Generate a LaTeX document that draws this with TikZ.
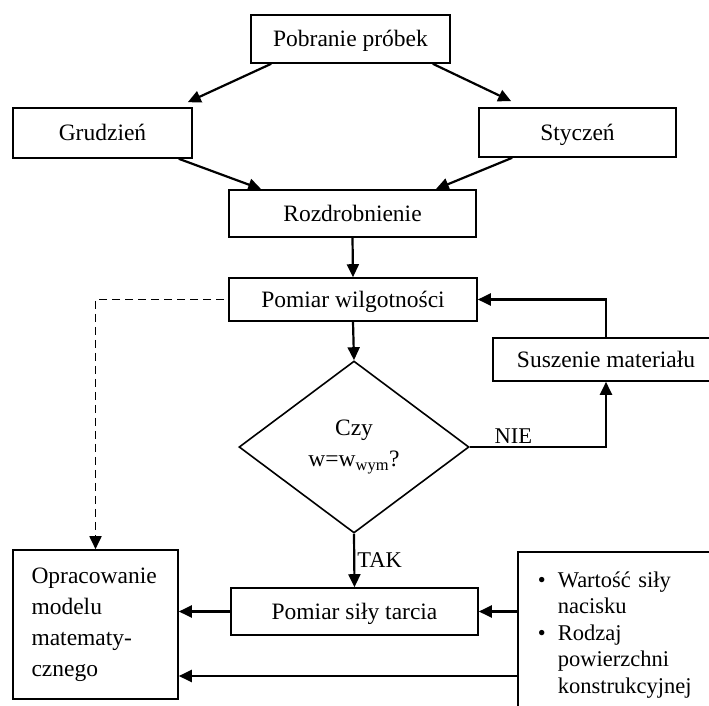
\documentclass[tikz,border=0pt]{standalone}
\usepackage{fontspec}
\setmainfont{Liberation Serif}
\usetikzlibrary{shapes.geometric,arrows.meta}
\begin{document}
\begin{tikzpicture}[x=1pt,y=-1pt,
  blok/.style={rectangle,draw,line width=1.6pt,inner sep=0pt,font=\fontsize{23.5}{31}\selectfont},
  linia/.style={text height=19pt,text depth=4pt},
  arr/.style={line width=2.2pt,-{Triangle[length=13pt,width=12pt]}},
  lbl/.style={font=\fontsize{22.5}{27}\selectfont,inner sep=2pt}]
\useasboundingbox (0,0) rectangle (709,706);
\clip (0,0) rectangle (709,706);
% bloki
\node[blok,linia,minimum width=199pt,minimum height=48pt] (pobranie) at (350.5,39) {Pobranie próbek};
\node[blok,linia,minimum width=179pt,minimum height=50pt] (grudzien) at (102.5,133) {Grudzień};
\node[blok,linia,minimum width=197pt,minimum height=49pt] (styczen) at (577.5,132.5) {Styczeń};
\node[blok,linia,minimum width=247pt,minimum height=47pt] (rozdrobnienie) at (352.5,213.5) {Rozdrobnienie};
\node[blok,linia,minimum width=248pt,minimum height=43pt] (wilgotnosc) at (353,299.5) {Pomiar wilgotności};
\node[blok,linia,minimum width=226pt,minimum height=43pt] (suszenie) at (606,359.5) {Suszenie materiału};
\node[blok,diamond,minimum width=230pt,minimum height=172pt,align=center] (czy) at (354,447) {Czy\\w=w\textsubscript{wym}?};
\node[blok,linia,minimum width=247pt,minimum height=47pt] (tarcie) at (354.5,611.5) {Pomiar siły tarcia};
\node[blok,minimum width=165pt,minimum height=149pt,text width=128pt,align=left,inner xsep=18.5pt] (model) at (95.5,624.5) {Opracowanie\\modelu\\matematy-\\cznego};
\node[blok,anchor=north west,text width=200pt,align=left,inner xsep=20pt,inner ysep=20pt,font=\fontsize{22.5}{26.5}\selectfont] (czynniki) at (517,551)
  {\makebox[20pt][l]{\textbullet}Wartość siły\\\hspace*{20pt}nacisku\\\makebox[20pt][l]{\textbullet}Rodzaj\\\hspace*{20pt}powierzchni\\\hspace*{20pt}konstrukcyjnej};
\coordinate (dol) at (517,676);
% strzalki
\draw[arr] ([xshift=21pt]pobranie.south west) -- ([xshift=-5pt,yshift=5pt]grudzien.north east);
\draw[arr] ([xshift=-18pt]pobranie.south east) -- ([xshift=33pt,yshift=6pt]styczen.north west);
\draw[arr] ([xshift=-14pt]grudzien.south east) -- ([xshift=33pt]rozdrobnienie.north west);
\draw[arr] ([xshift=34pt]styczen.south west) -- ([xshift=-41pt]rozdrobnienie.north east);
\draw[arr] (rozdrobnienie.south) -- (wilgotnosc.north);
\draw[arr] (wilgotnosc.south) -- (czy.north);
\draw[arr] (czy.east) -| node[lbl,above,pos=0.16] {NIE} (suszenie.south);
\draw[arr] (suszenie.north) |- (wilgotnosc.east);
\draw[arr] (czy.south) -- node[lbl,right] {TAK} (tarcie.north);
\draw[arr] (czynniki.west |- tarcie.east) -- (tarcie.east);
\draw[arr] (tarcie.west) -- (model.east |- tarcie.west);
\draw[arr] (dol) -- (model.east |- dol);
\draw[arr,line width=1.8pt,dash pattern=on 8pt off 5pt,shorten <=4pt] (wilgotnosc.west) -| (model.north);
\end{tikzpicture}
\end{document}
